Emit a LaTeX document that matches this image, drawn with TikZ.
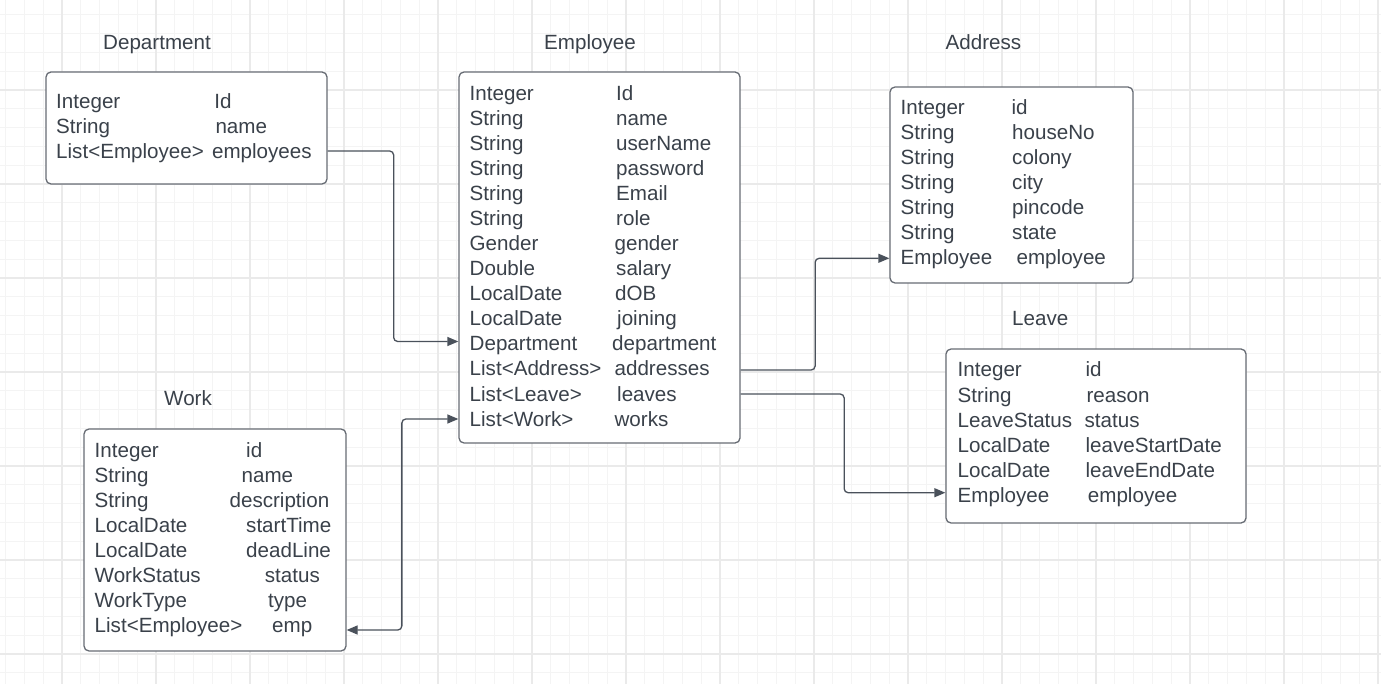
\documentclass[tikz,border=0pt]{standalone}
\usepackage{fontspec}
\setmainfont{Liberation Sans}
\usetikzlibrary{arrows.meta}
\definecolor{txtc}{HTML}{3A414A}
\definecolor{linec}{HTML}{4A515B}
\definecolor{boxc}{HTML}{676C74}
\definecolor{gridlo}{HTML}{F4F4F4}
\definecolor{gridhi}{HTML}{EAEAEA}
\begin{document}
\begin{tikzpicture}[x=1pt,y=-1pt,
  box/.style={draw=boxc,line width=1.3pt,rounded corners=5pt,fill=white,inner sep=0pt},
  title/.style={anchor=base west,inner sep=0pt,text=txtc,font=\fontsize{20.6}{25}\selectfont},
  field/.style={title},
  conn/.style={draw=linec,line width=1.3pt,rounded corners=4pt,-{Triangle[length=11pt,width=9pt]}}]
  \useasboundingbox (0,0) rectangle (1381,684);
  % grid paper
  \foreach \k in {0,...,73} \draw[gridlo,line width=1.2pt] ({5.6+18.8*\k},0) -- ({5.6+18.8*\k},684);
  \foreach \k in {1,...,36} \draw[gridlo,line width=1.2pt] (0,{-4+18.8*\k}) -- (1381,{-4+18.8*\k});
  \foreach \k in {0,...,14} \draw[gridhi,line width=1.3pt] ({62+94*\k},0) -- ({62+94*\k},684);
  \foreach \k in {0,...,6} \draw[gridhi,line width=1.3pt] (0,{90+94*\k}) -- (1381,{90+94*\k});
  % boxes
  \node[box,minimum width=281pt,minimum height=112pt] (dept) at (186.5,128) {};
  \node[box,minimum width=281pt,minimum height=371pt] (emp) at (599.5,257.5) {};
  \node[box,minimum width=243pt,minimum height=196pt] (addr) at (1011.5,185) {};
  \node[box,minimum width=300pt,minimum height=174pt] (leave) at (1096,436) {};
  \node[box,minimum width=262pt,minimum height=222pt] (work) at (215,540) {};
  % titles
  \node[title] (depttitle) at (103,49.3) {Department};
  \node[title] (emptitle) at (544,49.3) {Employee};
  \node[title] (addrtitle) at (945.5,50) {Address};
  \node[title] (leavetitle) at (1012,325.7) {Leave};
  \node[title] (worktitle) at (164,405) {Work};
  % fields
  \foreach \t/\n/\x [count=\i] in {Integer/Id/214.1, String/name/215.3, List<Employee>/employees/211.9} {
    \node[field] (dt\i) at (56,{109+25*(\i-1)}) {\t};
    \node[field] (dn\i) at (\x,{109+25*(\i-1)}) {\n};
  }
  \foreach \t/\n/\x [count=\i] in {Integer/Id/616, String/name/616, String/userName/616,
      String/password/616, String/Email/616, String/role/616, Gender/gender/614.4,
      Double/salary/616, LocalDate/dOB/615, LocalDate/joining/617, Department/department/612,
      List<Address>/addresses/614.4, List<Leave>/leaves/617, List<Work>/works/614.4} {
    \node[field] (et\i) at (469.5,{101+25*(\i-1)}) {\t};
    \node[field] (en\i) at (\x,{101+25*(\i-1)}) {\n};
  }
  \foreach \t/\n/\x [count=\i] in {Integer/id/1011.4, String/houseNo/1012, String/colony/1012,
      String/city/1012, String/pincode/1012, String/state/1012, Employee/employee/1016.4} {
    \node[field] (at\i) at (900.5,{115+25*(\i-1)}) {\t};
    \node[field] (an\i) at (\x,{115+25*(\i-1)}) {\n};
  }
  \foreach \t/\n/\x [count=\i] in {Integer/id/1085.4, String/reason/1086.4, LeaveStatus/status/1084.4,
      LocalDate/leaveStartDate/1085.4, LocalDate/leaveEndDate/1085.4, Employee/employee/1087.7} {
    \node[field] (lt\i) at (957.5,{377+25*(\i-1)}) {\t};
    \node[field] (ln\i) at (\x,{377+25*(\i-1)}) {\n};
  }
  \foreach \t/\n/\x [count=\i] in {Integer/id/246, String/name/241.4, String/description/229.4,
      LocalDate/startTime/246, LocalDate/deadLine/246, WorkStatus/status/264.7,
      WorkType/type/268, List<Employee>/emp/272} {
    \node[field] (wt\i) at (94.5,{457+25*(\i-1)}) {\t};
    \node[field] (wn\i) at (\x,{457+25*(\i-1)}) {\n};
  }
  % connectors
  \draw[conn] (dept.east |- 0,151) -- ++(66,0) |- (emp.west |- 0,341.5);
  \draw[conn,{Triangle[length=11pt,width=9pt]}-{Triangle[length=11pt,width=9pt]}]
    (emp.west |- 0,419) -- ++(-56.5,0) |- (work.east |- 0,630);
  \draw[conn] (emp.east |- 0,370) -- ++(74.5,0) |- (addr.west |- 0,258.3);
  \draw[conn] (emp.east |- 0,394) -- ++(103.5,0) |- (leave.west |- 0,492.7);
\end{tikzpicture}
\end{document}
